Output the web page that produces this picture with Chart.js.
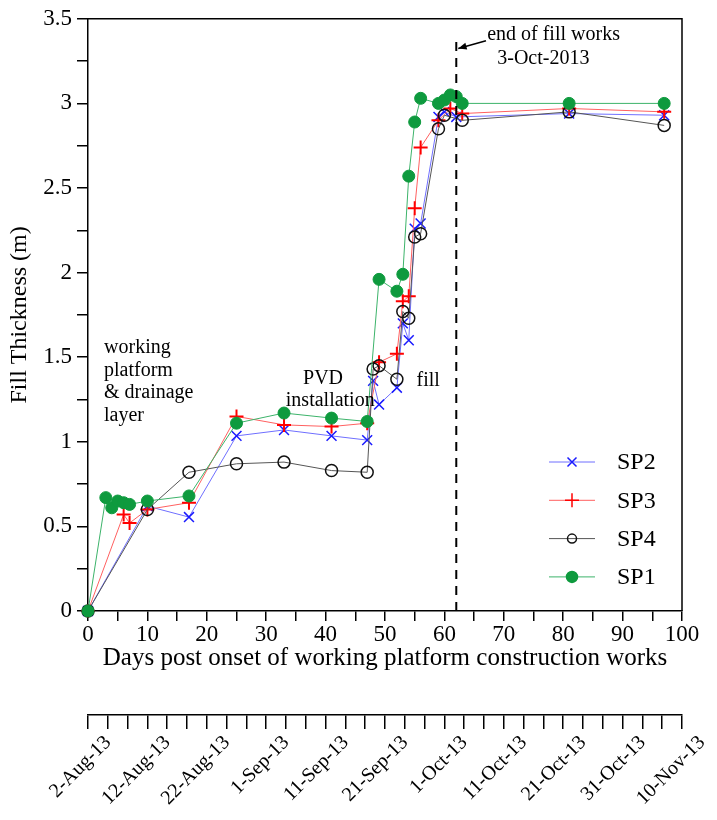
<!DOCTYPE html>
<html>
<head>
<meta charset="utf-8">
<title>Fill thickness</title>
<script src="https://cdn.jsdelivr.net/npm/chart.js@4.4.1/dist/chart.umd.min.js"></script>
<style>
  html, body { margin: 0; padding: 0; background: #fff; }
</style>
</head>
<body>
<canvas id="fillChart" width="717" height="820"></canvas>
<script>
// days after start of works / fill thickness (m)
const sp2Days = [0, 10, 17, 25, 33, 41, 47, 48, 49, 52, 53, 54, 55, 56, 59, 60, 62, 81, 97];
const sp2Vals = [0, 0.62, 0.555, 1.035, 1.07, 1.035, 1.01, 1.36, 1.22, 1.32, 1.70, 1.60, 2.26, 2.29, 2.92, 2.95, 2.92, 2.94, 2.93];

const sp3Days = [0, 6, 7, 10, 17, 25, 33, 41, 47, 49, 52, 53, 54, 55, 56, 59, 61, 63, 81, 97];
const sp3Vals = [0, 0.57, 0.52, 0.60, 0.64, 1.15, 1.10, 1.09, 1.11, 1.47, 1.52, 1.83, 1.86, 2.38, 2.74, 2.90, 2.97, 2.94, 2.97, 2.95];

const sp4Days = [0, 10, 17, 25, 33, 41, 47, 48, 49, 52, 53, 54, 55, 56, 59, 60, 63, 81, 97];
const sp4Vals = [0, 0.60, 0.82, 0.87, 0.88, 0.83, 0.82, 1.43, 1.45, 1.37, 1.77, 1.73, 2.21, 2.23, 2.85, 2.93, 2.90, 2.95, 2.87];

const sp1Days = [0, 3, 4, 5, 6, 7, 10, 17, 25, 33, 41, 47, 49, 52, 53, 54, 55, 56, 59, 60, 61, 62, 63, 81, 97];
const sp1Vals = [0, 0.67, 0.61, 0.65, 0.64, 0.63, 0.65, 0.68, 1.11, 1.17, 1.14, 1.12, 1.96, 1.89, 1.99, 2.57, 2.89, 3.03, 3.00, 3.02, 3.05, 3.04, 3.00, 3.00, 3.00];

const dateLabels = ['2-Aug-13', '12-Aug-13', '22-Aug-13', '1-Sep-13', '11-Sep-13', '21-Sep-13',
                    '1-Oct-13', '11-Oct-13', '21-Oct-13', '31-Oct-13', '10-Nov-13'];

const fillEndDay = 62;      // 3-Oct-2013
const dashTop = 3.37;

const serif = "'Liberation Serif', 'Times New Roman', serif";

function pts(days, vals) {
    return days.map((d, i) => ({x: d, y: vals[i]}));
}

// minor ticks of the date axis, 3 per 10 days
const dateTicks = [];
for (let i = 0; i <= 30; i++) dateTicks.push(i * 10 / 3);

const notes = [
    {text: 'working', day: 2.7, val: 1.553},
    {text: 'platform', day: 2.7, val: 1.418},
    {text: '& drainage', day: 2.7, val: 1.288},
    {text: 'layer', day: 2.7, val: 1.153},
    {text: 'PVD', day: 36.2, val: 1.37},
    {text: 'installation', day: 33.3, val: 1.24},
    {text: 'fill', day: 55.3, val: 1.36},
    {text: 'end of fill works', day: 67.2, val: 3.406},
    {text: '3-Oct-2013', day: 68.9, val: 3.265}
];

const legendRows = [
    {label: 'SP2', line: '#6f6fff', style: 'crossRot', color: '#1a1aff', fill: null, r: 6},
    {label: 'SP3', line: '#ff6060', style: 'cross', color: '#ff0000', fill: null, r: 7},
    {label: 'SP4', line: '#555555', style: 'circle', color: '#111111', fill: null, r: 4.5},
    {label: 'SP1', line: '#3cb36a', style: 'circle', color: '#0e9a3e', fill: '#0e9a3e', r: 5.5}
];

function marker(ctx, style, cx, cy, r) {
    ctx.beginPath();
    if (style === 'circle') {
        ctx.arc(cx, cy, r, 0, Math.PI * 2);
    } else if (style === 'cross') {
        ctx.moveTo(cx - r, cy); ctx.lineTo(cx + r, cy);
        ctx.moveTo(cx, cy - r); ctx.lineTo(cx, cy + r);
    } else {
        const d = r * 0.75;
        ctx.moveTo(cx - d, cy - d); ctx.lineTo(cx + d, cy + d);
        ctx.moveTo(cx + d, cy - d); ctx.lineTo(cx - d, cy + d);
    }
}

const overlay = {
    id: 'overlay',
    afterDraw(chart) {
        const {ctx, chartArea: a, scales: {x, y}} = chart;
        ctx.save();
        // box top & right
        ctx.strokeStyle = '#000';
        ctx.lineWidth = 1.5;
        ctx.beginPath();
        ctx.moveTo(a.left, a.top);
        ctx.lineTo(a.right, a.top);
        ctx.lineTo(a.right, a.bottom);
        ctx.stroke();

        // end of fill line
        const dx = x.getPixelForValue(fillEndDay);
        ctx.lineWidth = 2;
        ctx.setLineDash([9, 7]);
        ctx.beginPath();
        ctx.moveTo(dx, y.getPixelForValue(0));
        ctx.lineTo(dx, y.getPixelForValue(dashTop));
        ctx.stroke();
        ctx.setLineDash([]);

        // arrow
        const x0 = x.getPixelForValue(67), y0 = y.getPixelForValue(3.37);
        const x1 = dx + 2, y1 = y.getPixelForValue(3.325);
        ctx.lineWidth = 1.5;
        ctx.beginPath();
        ctx.moveTo(x0, y0);
        ctx.lineTo(x1, y1);
        ctx.stroke();
        const ang = Math.atan2(y1 - y0, x1 - x0);
        ctx.fillStyle = '#000';
        ctx.beginPath();
        ctx.moveTo(x1, y1);
        ctx.lineTo(x1 - 9 * Math.cos(ang - 0.4), y1 - 9 * Math.sin(ang - 0.4));
        ctx.lineTo(x1 - 9 * Math.cos(ang + 0.4), y1 - 9 * Math.sin(ang + 0.4));
        ctx.closePath();
        ctx.fill();

        // annotations
        ctx.font = '20px ' + serif;
        ctx.textAlign = 'left';
        ctx.textBaseline = 'middle';
        notes.forEach(n => ctx.fillText(n.text, x.getPixelForValue(n.day), y.getPixelForValue(n.val)));

        // legend
        ctx.font = '24px ' + serif;
        legendRows.forEach((row, i) => {
            const ly = a.bottom - 149 + i * 38.3;
            ctx.strokeStyle = row.line;
            ctx.lineWidth = 1;
            ctx.beginPath();
            ctx.moveTo(a.right - 133, ly);
            ctx.lineTo(a.right - 87, ly);
            ctx.stroke();
            ctx.strokeStyle = row.color;
            ctx.lineWidth = 1.5;
            marker(ctx, row.style, a.right - 110, ly, row.r);
            if (row.fill) {
                ctx.fillStyle = row.fill;
                ctx.fill();
            }
            ctx.stroke();
            ctx.fillStyle = '#000';
            ctx.fillText(row.label, a.right - 65, ly + 1);
        });
        ctx.restore();
    }
};

Chart.defaults.font.family = serif;
Chart.defaults.color = '#000';

const tickFont = {family: serif, size: 23};

new Chart(document.getElementById('fillChart'), {
    type: 'scatter',
    data: {
        datasets: [
            {
                label: 'SP1', data: pts(sp1Days, sp1Vals), showLine: true, clip: false,
                borderColor: '#3cb36a', borderWidth: 1,
                pointStyle: 'circle', pointRadius: 6, pointBackgroundColor: '#0e9a3e',
                pointBorderColor: '#0e9a3e', pointBorderWidth: 1
            },
            {
                label: 'SP4', data: pts(sp4Days, sp4Vals), showLine: true, clip: false,
                borderColor: '#555555', borderWidth: 1,
                pointStyle: 'circle', pointRadius: 6, pointBackgroundColor: 'rgba(255,255,255,0)',
                pointBorderColor: '#111111', pointBorderWidth: 1.5
            },
            {
                label: 'SP3', data: pts(sp3Days, sp3Vals), showLine: true, clip: false,
                borderColor: '#ff6060', borderWidth: 1,
                pointStyle: 'cross', pointRadius: 7,
                pointBorderColor: '#ff0000', pointBorderWidth: 2
            },
            {
                label: 'SP2', data: pts(sp2Days, sp2Vals), showLine: true, clip: false,
                borderColor: '#6f6fff', borderWidth: 1,
                pointStyle: 'crossRot', pointRadius: 7,
                pointBorderColor: '#1a1aff', pointBorderWidth: 1.5
            }
        ]
    },
    options: {
        responsive: false,
        animation: false,
        layout: {padding: {top: 18, right: 35, left: 0, bottom: 0}},
        plugins: {
            legend: {display: false},
            tooltip: {enabled: false}
        },
        scales: {
            x: {
                type: 'linear', position: 'bottom', weight: 0,
                min: 0, max: 100,
                grid: {drawOnChartArea: false, color: '#000', tickLength: 10, lineWidth: 1.5},
                border: {color: '#000', width: 1.5},
                ticks: {
                    stepSize: 5, autoSkip: false, maxRotation: 0, padding: 0, font: tickFont,
                    callback: v => (v % 10 === 0 ? String(v) : '')
                },
                title: {
                    display: true, text: 'Days post onset of working platform construction works',
                    font: {family: serif, size: 25}, padding: {top: 0, bottom: 42}
                },
                afterFit: s => { s.height = 104; }
            },
            x2: {
                type: 'linear', position: 'bottom', weight: 1,
                min: 0, max: 100,
                grid: {drawOnChartArea: false, color: '#000', tickLength: 14, lineWidth: 1.5},
                border: {color: '#000', width: 1.5},
                afterBuildTicks: s => { s.ticks = dateTicks.map(v => ({value: v})); },
                ticks: {
                    autoSkip: false, minRotation: 45, maxRotation: 45, padding: 2,
                    labelOffset: 20,
                    font: {family: serif, size: 20},
                    callback: (v, i) => (i % 3 === 0 ? dateLabels[i / 3] : '')
                },
                afterFit: s => { s.height = 105; }
            },
            y: {
                type: 'linear', min: 0, max: 3.5,
                grid: {drawOnChartArea: false, color: '#000', tickLength: 11, lineWidth: 1.5},
                border: {color: '#000', width: 1.5},
                ticks: {
                    stepSize: 0.25, autoSkip: false, padding: 5, font: tickFont,
                    callback: v => ((v * 2) % 1 === 0 ? String(v) : '')
                },
                title: {
                    display: true, text: 'Fill Thickness (m)',
                    font: {family: serif, size: 24}, padding: {top: 5, bottom: 0}
                },
                afterFit: s => { s.width = 88; }
            }
        }
    },
    plugins: [overlay]
});
</script>
</body>
</html>
